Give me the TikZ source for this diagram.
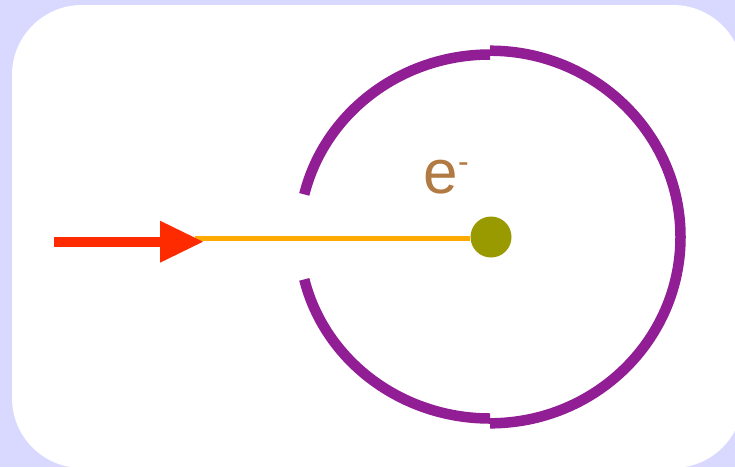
\documentclass[tikz,border=0pt]{standalone}
\usepackage{fontspec}
\setmainfont{Liberation Sans}
\usetikzlibrary{arrows.meta}

\definecolor{backlav}{RGB}{217,217,255}
\definecolor{orbitpurple}{RGB}{145,30,148}
\definecolor{beamorange}{RGB}{255,170,0}
\definecolor{photonred}{RGB}{255,43,0}
\definecolor{nucleusolive}{RGB}{153,153,0}
\definecolor{chargebrown}{RGB}{176,122,66}

\begin{document}
\begin{tikzpicture}[
  x=1pt, y=1pt,
  panel/.style={fill=white, rounded corners=70pt},
  orbit/.style={draw=orbitpurple, line width=10.5pt, line cap=butt},
  beam/.style={draw=beamorange, line width=4.5pt},
  photon/.style={draw=photonred, line width=10pt, -{Triangle[length=43pt, width=42pt, line width=0pt]}},
  nucleus/.style={circle, fill=nucleusolive, inner sep=0pt, minimum size=41pt},
  chargelabel/.style={text=chargebrown, inner sep=0pt, font=\fontsize{62}{62}\selectfont}
]
% page and white panel
\useasboundingbox (0,0) rectangle (735,-467);
\fill[backlav] (0,0) rectangle (735,-467);
\fill[panel] (12,-5) rectangle (743,-468);

% orbit, open on the left
\coordinate (c) at (490,-237);
\draw[orbit] (c) ++(166.5:191 and 182.5) arc[start angle=166.5, end angle=90, x radius=191, y radius=182.5];
\draw[orbit] (c) ++(90:190.5 and 186.3) arc[start angle=90, end angle=-90, x radius=190.5, y radius=186.3];
\draw[orbit] (c) ++(270:191 and 181.5) arc[start angle=270, end angle=193.5, x radius=191, y radius=181.5];

\node[nucleus] (dot) at (491,-237) {};
\node[chargelabel, anchor=base west] (charge) at (423.5,-193) {e\raisebox{21pt}{\fontsize{32}{32}\selectfont -}};

% incoming photon
\coordinate (beamstart) at (195,-238.5);
\coordinate (src) at (54,-241.7);
\coordinate (tip) at (203,-241.7);
\draw[beam] (beamstart) -- (beamstart -| dot.west);
\draw[photon] (src) -- (tip);
\end{tikzpicture}
\end{document}
